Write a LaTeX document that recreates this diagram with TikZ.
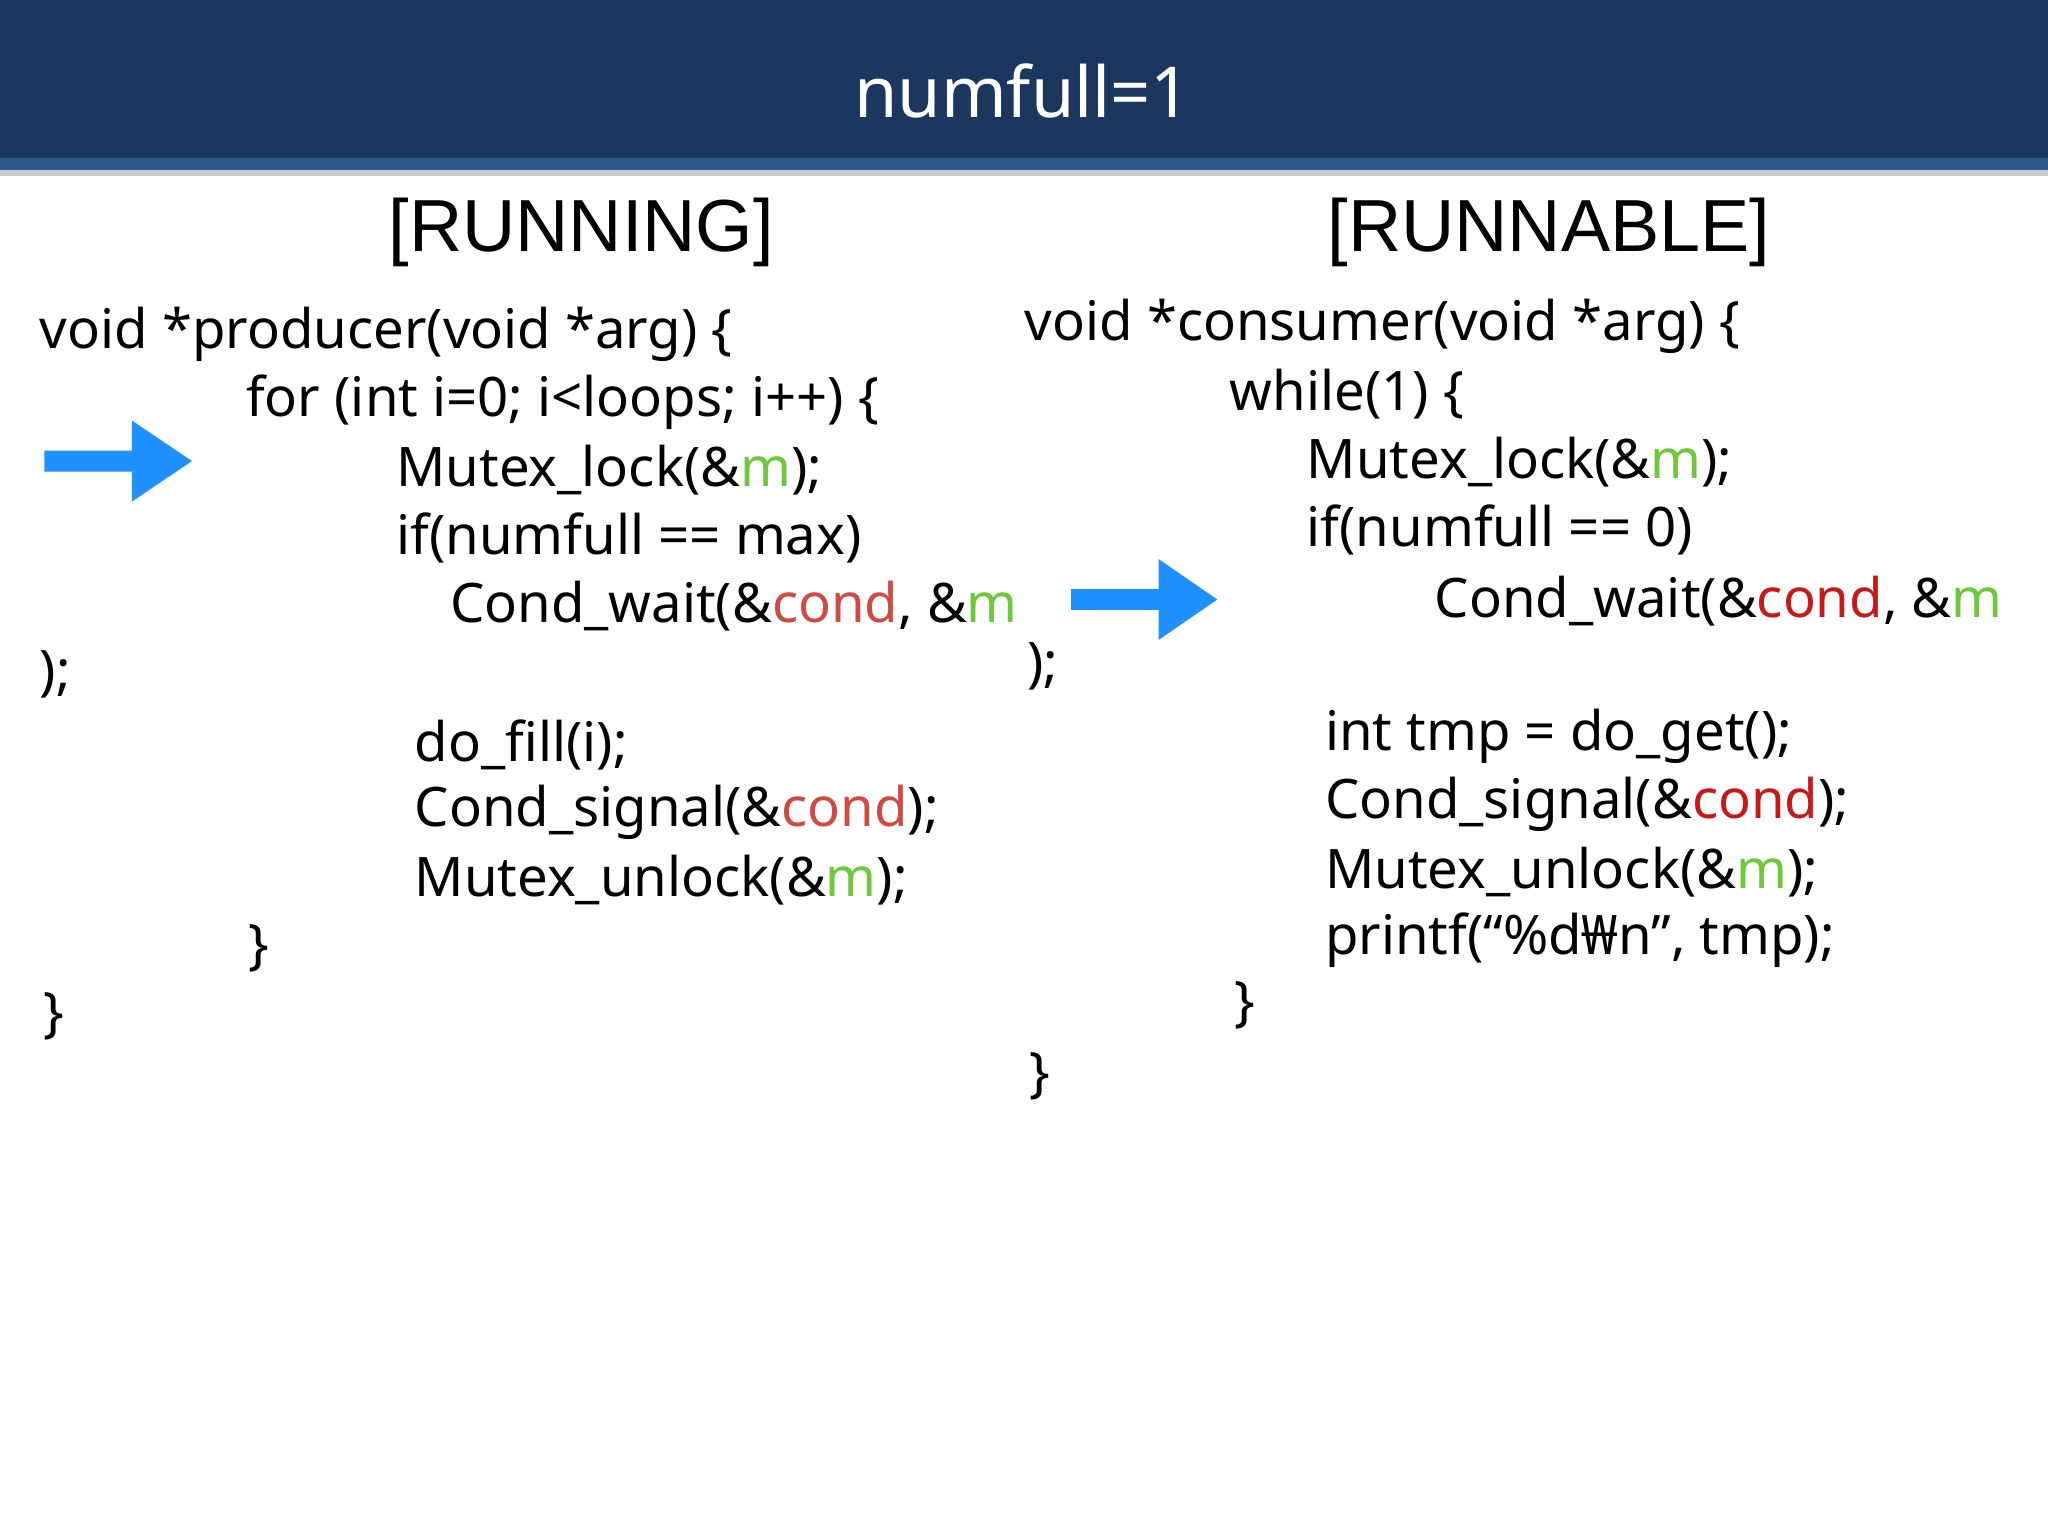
\documentclass[tikz,border=0pt]{standalone}
\usepackage{fontspec}
\setmainfont{Noto Sans}
\newfontfamily\hdr{Liberation Sans}
\definecolor{navy}{RGB}{28,55,93}
\definecolor{stripe}{RGB}{48,88,140}
\definecolor{arrowblue}{RGB}{30,144,255}
\definecolor{mg}{RGB}{110,200,60}
\definecolor{cr}{RGB}{205,75,65}
\definecolor{crd}{RGB}{200,25,25}
\begin{document}
\begin{tikzpicture}[x=0.01306cm,y=-0.01306cm,
  code/.style={anchor=west,inner sep=0pt,font=\fontsize{15.5}{18}\selectfont},
  head/.style={inner sep=0pt,font=\hdr\fontsize{21}{24}\selectfont},
  barrow/.style={fill=arrowblue}]
\useasboundingbox (0,0) rectangle (1568,1176);
\fill[white] (0,0) rectangle (1568,1176);
\fill[gray!40] (0,130) rectangle (1568,135);
\fill[stripe] (0,121) rectangle (1568,130);
\fill[navy] (0,0) rectangle (1568,121);
\node[inner sep=0pt,text=white,font=\fontsize{20}{24}\selectfont] (title) at (783,70) {numfull=1};
\node[head] (h1) at (445,178) {[RUNNING]};
\node[head] (h2) at (1186,178) {[RUNNABLE]};
% left code
\node[code] (l1) at (30,256) {void *producer(void *arg) \{};
\node[code] (l2) at (188,308) {for (int i=0; i<loops; i++) \{};
\node[code] (l3) at (303,360) {Mutex\_lock(\&\textcolor{mg}{m});};
\node[code] (l4) at (303,412) {if(numfull == max)};
\node[code] (l5) at (344,464) {Cond\_wait(\&\textcolor{cr}{cond}, \&\textcolor{mg}{m}};
\node[code] (l6) at (30,516) {);};
\node[code] (l7) at (317,570) {do\_fill(i);};
\node[code] (l8) at (317,622) {Cond\_signal(\&\textcolor{cr}{cond});};
\node[code] (l9) at (317,674) {Mutex\_unlock(\&\textcolor{mg}{m});};
\node[code] (l10) at (190,726) {\}};
\node[code] (l11) at (33,778) {\}};
% right code
\node[code] (r1) at (784,250) {void *consumer(void *arg) \{};
\node[code] (r2) at (941,302) {while(1) \{};
\node[code] (r3) at (1000,354) {Mutex\_lock(\&\textcolor{mg}{m});};
\node[code] (r4) at (1000,406) {if(numfull == 0)};
\node[code] (r5) at (1098,460) {Cond\_wait(\&\textcolor{crd}{cond}, \&\textcolor{mg}{m}};
\node[code] (r6) at (786,510) {);};
\node[code] (r7) at (1014,564) {int tmp = do\_get();};
\node[code] (r8) at (1014,616) {Cond\_signal(\&\textcolor{crd}{cond});};
\node[code] (r9) at (1014,668) {Mutex\_unlock(\&\textcolor{mg}{m});};
\node[code] (r10) at (1014,720) {printf(“\%d₩n”, tmp);};
\node[code] (r11) at (945,770) {\}};
\node[code] (r12) at (788,824) {\}};
% arrows
\fill[barrow] (34,345) -- (101,345) -- (101,322) -- (147,353) -- (101,384) -- (101,361) -- (34,361) -- cycle;
\fill[barrow] (820,451) -- (887,451) -- (887,428) -- (932,459) -- (887,490) -- (887,467) -- (820,467) -- cycle;
\end{tikzpicture}
\end{document}
